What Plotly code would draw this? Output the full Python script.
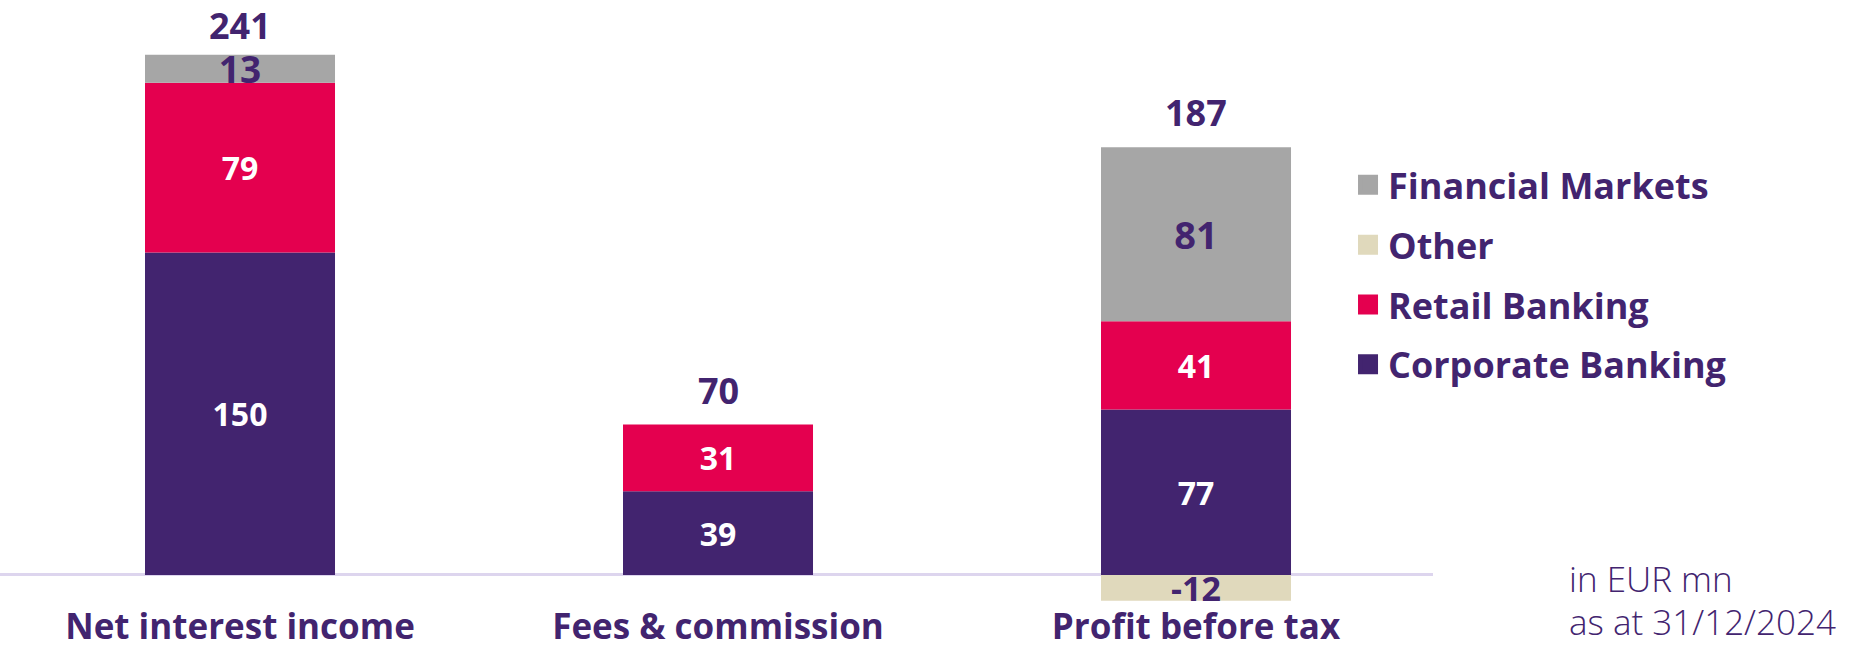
import plotly.graph_objects as go

categories = ["Net interest income", "Fees &amp; commission", "Profit before tax"]
corporate = [150, 39, 77]
retail = [79, 31, 41]
fin_markets = [13, None, 81]
other = [None, None, -12]
totals = [241, 70, 187]

PURPLE = "#42246F"
RED = "#E4004F"
GRAY = "#A6A6A6"
BEIGE = "#E0D9BC"
FONT = "Open Sans"

def labels(vals):
    return ["" if v is None else str(v) for v in vals]

fig = go.Figure()
series = [
    ("Corporate Banking", corporate, PURPLE, "white", [32, 32, 32]),
    ("Retail Banking", retail, RED, "white", [32, 32, 32]),
    ("Financial Markets", fin_markets, GRAY, PURPLE, [37, 37, 38]),
    ("Other", other, BEIGE, PURPLE, [34, 34, 34]),
]
for name, vals, col, tcol, tsize in series:
    fig.add_trace(go.Bar(
        x=categories, y=vals, name=name, marker=dict(color=col, line=dict(width=0)),
        text=labels(vals), textposition="inside", insidetextanchor="middle",
        constraintext="none", textangle=0,
        textfont=dict(family=FONT, size=tsize, color=tcol, weight=700),
        showlegend=False, hoverinfo="skip",
    ))

# legend entries
legend_order = [("Financial Markets", GRAY), ("Other", BEIGE), ("Retail Banking", RED), ("Corporate Banking", PURPLE)]
for name, col in legend_order:
    fig.add_trace(go.Scatter(
        x=[None], y=[None], mode="markers", name=name, legendgroup=name,
        marker=dict(symbol="square", size=16, color=col, line=dict(width=4, color=col)),
    ))

pos_tops = []
for i in range(len(categories)):
    s = 0
    for vals in (corporate, retail, fin_markets):
        if vals[i] is not None and vals[i] > 0:
            s += vals[i]
    pos_tops.append(s)

for c, t, top in zip(categories, totals, pos_tops):
    shift = 3 if top > 230 else 8  # keep the tallest label inside the canvas
    fig.add_annotation(x=c, y=top, text=str(t), showarrow=False, yanchor="bottom",
                       yshift=shift, font=dict(family=FONT, size=36, color=PURPLE, weight=700))

note_font = dict(family=FONT, size=35, color=PURPLE, weight=300)
fig.add_annotation(xref="paper", yref="paper", x=1.0935, y=0.0405, xanchor="left", yanchor="middle",
                   align="left", showarrow=False, text="in EUR mn", font=note_font)
fig.add_annotation(xref="paper", yref="paper", x=1.0935, y=-0.0302, xanchor="left", yanchor="middle",
                   align="left", showarrow=False, text="as at 31/12/2024", font=note_font)

fig.update_layout(
    width=1874, height=648,
    margin=dict(l=0, r=441, t=0, b=45, autoexpand=False),
    barmode="relative", bargap=0.6025,
    plot_bgcolor="white", paper_bgcolor="white",
    font=dict(family=FONT, color=PURPLE),
    showlegend=True,
    legend=dict(x=0.9407, y=0.743, xanchor="left", yanchor="top",
                font=dict(family=FONT, size=36, color=PURPLE, weight=700),
                tracegroupgap=10, traceorder="grouped", bgcolor="rgba(0,0,0,0)"),
    xaxis=dict(showgrid=False, showline=False, ticks="", range=[-0.5021, 2.4958], automargin=False,
               tickfont=dict(family=FONT, size=35, color=PURPLE, weight=700)),
    yaxis=dict(range=[-13.03, 267.5], showgrid=False, showticklabels=False, showline=False,
               automargin=False, zeroline=True, zerolinecolor="#DDD5EE", zerolinewidth=3),
)

fig.write_html("out.html", config={"displayModeBar": False},
               post_script="document.body.style.margin='0px';")
